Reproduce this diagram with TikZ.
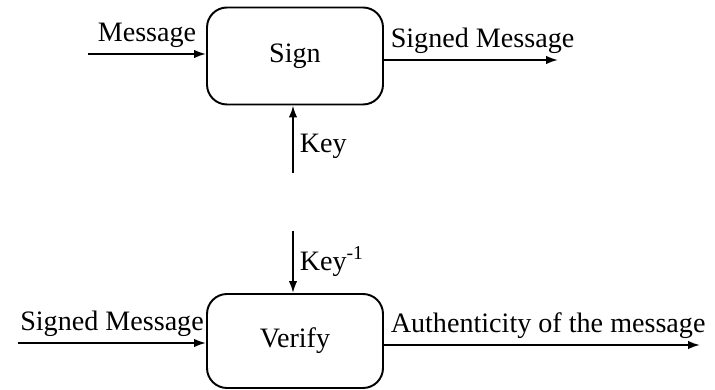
\documentclass[tikz,border=0pt]{standalone}
\usepackage{fontspec}
\setmainfont{Liberation Serif}
\usetikzlibrary{positioning, arrows.meta}

\begin{document}
\begin{tikzpicture}[font=\fontsize{16}{19}\selectfont,
    block/.style={draw, rounded corners=0.4cm, line width=1.1pt, minimum width=3.52cm, minimum height=1.94cm},
    flow/.style={line width=1.1pt, -{Latex[length=2.4mm,width=1.7mm]}}]
    \useasboundingbox (0,0) rectangle (14.3,7.8);
    % the two boxes
    \node[block] (sign) at (5.9,6.68) {Sign};
    \node[block, minimum height=1.88cm] (verify) at (5.9,0.98) {Verify};

    % free ends of the arrows
    \coordinate (msg) at (1.76,6.72);
    \coordinate (signedout) at (11.16,6.6);
    \coordinate (key) at (5.86,4.34);
    \coordinate (keyinv) at (5.86,3.18);
    \coordinate (signedin) at (0.36,0.94);
    \coordinate (auth) at (14.0,0.9);

    \draw[flow] (msg) to node[midway,above]{Message} (msg -| sign.west);
    \draw[flow] (signedout -| sign.east) to node[pos=0,above right]{Signed Message} (signedout);
    \draw[flow] (key) to node[pos=0.4,right]{Key} (key |- sign.south);
    \draw[flow] (keyinv) to node[midway,right]{Key\textsuperscript{-1}} (keyinv |- verify.north);
    \draw[flow] (signedin) to node[midway,above]{Signed Message} (signedin -| verify.west);
    \draw[flow] (auth -| verify.east) to node[pos=0,above right]{Authenticity of the message} (auth);
\end{tikzpicture}
\end{document}
